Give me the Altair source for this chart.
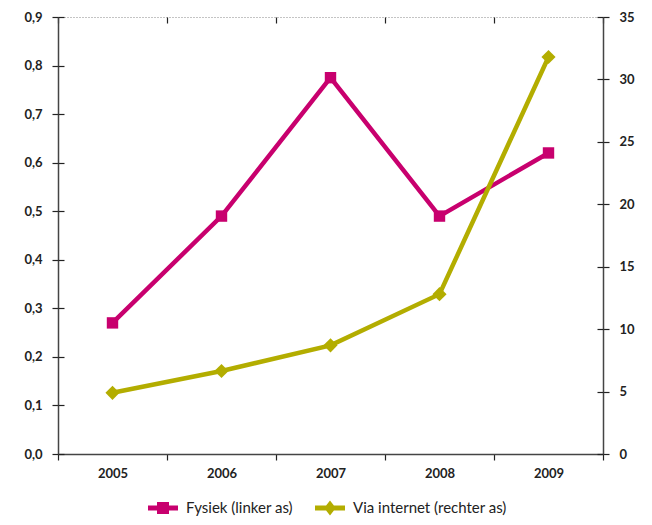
import altair as alt
import pandas as pd

years = ["2005", "2006", "2007", "2008", "2009"]
fysiek = [0.27, 0.49, 0.775, 0.49, 0.62]
internet = [4.9, 6.65, 8.7, 12.8, 31.8]
series_names = ["Fysiek (linker as)", "Via internet (rechter as)"]
colors = ["#c8006e", "#b3ad00"]
left_ticks = [0.0, 0.1, 0.2, 0.3, 0.4, 0.5, 0.6, 0.7, 0.8, 0.9]
right_ticks = [0, 5, 10, 15, 20, 25, 30, 35]

df_f = pd.DataFrame({"year": years, "value": fysiek, "series": series_names[0]})
df_i = pd.DataFrame({"year": years, "value": internet, "series": series_names[1]})

FONT = "Lato"
sq_path = "M-1,-0.17H-0.4V-0.4H0.4V-0.17H1V0.17H0.4V0.4H-0.4V0.17H-1Z"
di_path = "M-1,-0.17H-0.26L0,-0.5L0.26,-0.17H1V0.17H0.26L0,0.5L-0.26,0.17H-1Z"

xscale = alt.Scale(domain=years, paddingInner=0, paddingOuter=0)
x_main = alt.X("year:N", scale=xscale, title=None,
               axis=alt.Axis(tickBand="extent", labelAngle=0, tickSize=6,
                             labelPadding=7, grid=False))
x_inner = alt.X("year:N", scale=xscale, title=None,
                axis=alt.Axis(tickBand="extent", offset=-6, tickSize=6,
                              labels=False, domain=False, grid=False))
x_none = alt.X("year:N", scale=xscale, axis=None)

lscale = alt.Scale(domain=[0, 0.9], nice=False, zero=True)
rscale = alt.Scale(domain=[0, 35], nice=False, zero=True)
lab_expr = "replace(format(datum.value, '.1f'), '.', ',')"

yl_main = alt.Y("value:Q", scale=lscale, title=None,
                axis=alt.Axis(orient="left", values=left_ticks, labelExpr=lab_expr,
                              tickSize=6, labelPadding=10, grid=False))
yl_inner = alt.Y("value:Q", scale=lscale, title=None,
                 axis=alt.Axis(orient="left", values=left_ticks, offset=-6, tickSize=6,
                               labels=False, domain=False, grid=False))
yl_grid = alt.Y("value:Q", scale=lscale, title=None,
                axis=alt.Axis(orient="left", values=[0.9], ticks=False, labels=False,
                              domain=False, grid=True, gridDash=[1, 2],
                              gridColor="#888888", gridWidth=1))
yr_main = alt.Y("value:Q", scale=rscale, title=None,
                axis=alt.Axis(orient="right", values=right_ticks, tickSize=6,
                              labelPadding=10, grid=False))
yr_inner = alt.Y("value:Q", scale=rscale, title=None,
                 axis=alt.Axis(orient="right", values=right_ticks, offset=-6, tickSize=6,
                               labels=False, domain=False, grid=False))

fys_line = alt.Chart(df_f).mark_line(color=colors[0], strokeWidth=4.5).encode(x=x_main, y=yl_main)
fys_pts = alt.Chart(df_f).mark_point(shape="square", filled=True, opacity=1,
                                     color=colors[0], size=130).encode(x=x_inner, y=yl_inner)
leg = alt.Chart(df_f).mark_point(filled=True, opacity=0).encode(
    x=x_none, y=yl_grid,
    color=alt.Color("series:N", scale=alt.Scale(domain=series_names, range=colors),
                    legend=alt.Legend(title=None)),
    shape=alt.Shape("series:N", scale=alt.Scale(domain=series_names, range=[sq_path, di_path]),
                    legend=alt.Legend(title=None)),
)
via_line = alt.Chart(df_i).mark_line(color=colors[1], strokeWidth=4.5).encode(x=x_none, y=yr_main)
via_pts = alt.Chart(df_i).mark_point(shape="diamond", filled=True, opacity=1,
                                     color=colors[1], size=200).encode(x=x_none, y=yr_inner)

chart = alt.layer(leg, fys_line, via_line, fys_pts, via_pts).resolve_scale(
    x="independent", y="independent"
).properties(
    width=545, height=437,
    autosize=alt.AutoSizeParams(type="none"),
    padding={"left": 50, "top": 9, "right": 41, "bottom": 63},
).configure_view(stroke=None).configure_axis(
    labelFont=FONT, labelFontSize=13, labelFontWeight="bold", labelColor="#222222",
    domainColor="#444444", domainWidth=1.5, tickColor="#222222", tickWidth=1.2,
).configure_legend(
    orient="none", legendX=90, legendY=476, padding=0,
    direction="horizontal", labelFont=FONT, labelFontSize=15,
    labelColor="#222222", symbolSize=900, symbolOpacity=1, symbolStrokeWidth=0,
    labelOffset=8, columnPadding=22,
)

chart.save("out.html", embed_options={"renderer": "svg", "actions": False})
